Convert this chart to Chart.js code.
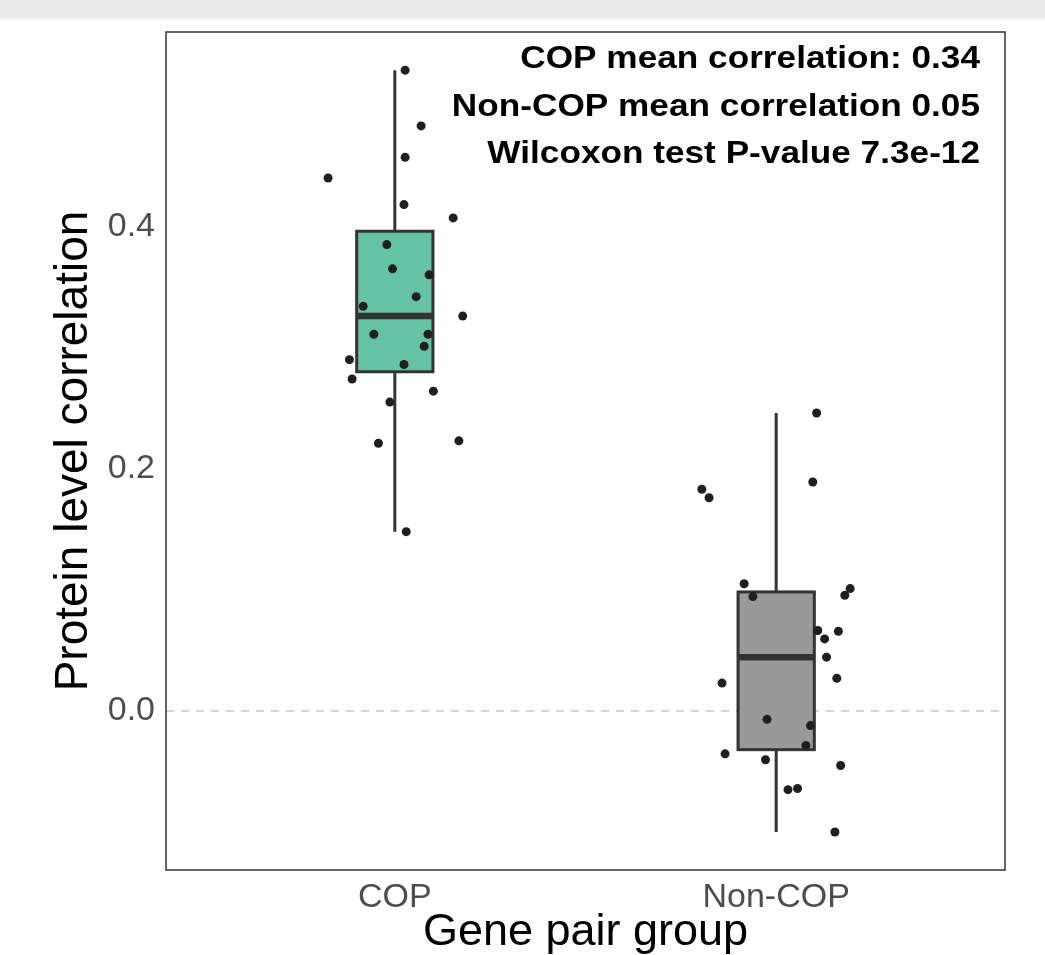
<!DOCTYPE html>
<html>
<head>
<meta charset="utf-8">
<script src="https://cdn.jsdelivr.net/npm/chart.js@4/dist/chart.umd.min.js"></script>
<style>
  html, body { margin: 0; padding: 0; background: #fff; }
  #wrap { position: relative; width: 1045px; height: 955px; }
  #topbar { position: absolute; left: 0; top: 0; width: 1045px; height: 19px; background: #ececec; }
  canvas { position: absolute; left: 0; top: 0; }
</style>
</head>
<body>
<div id="wrap">
  <canvas id="boxChart" width="1045" height="955"></canvas>
  <div id="topbar"></div>
</div>
<script>
// data
const categories = ['COP', 'Non-COP'];

const copValues = [0.529, 0.483, 0.457, 0.440, 0.418, 0.407, 0.385, 0.365, 0.360, 0.342, 0.334, 0.326,
                   0.311, 0.311, 0.301, 0.290, 0.286, 0.274, 0.264, 0.255, 0.221, 0.223, 0.148];
// horizontal jitter of each dot, as offset from the group centre
const copJitter = [0.027, 0.069, 0.027, -0.175, 0.024, 0.153, -0.021, -0.006, 0.090, 0.056, -0.083, 0.178,
                   -0.055, 0.087, 0.077, -0.119, 0.024, -0.112, 0.101, -0.013, -0.043, 0.168, 0.030];

const nonCopValues = [0.246, 0.183, 0.176, 0.189, 0.105, 0.0944, 0.101, 0.0955, 0.0664, 0.0658, 0.0595, 0.0444,
                      0.0269, 0.0230, -0.0069, -0.0121, -0.0285, -0.0354, -0.0403, -0.045, -0.065, -0.064, -0.0999];
const nonCopJitter = [0.106, -0.195, -0.176, 0.096, -0.084, -0.061, 0.194, 0.180, 0.109, 0.163, 0.127, 0.132,
                      0.159, -0.142, -0.024, 0.090, 0.078, -0.134, -0.028, 0.169, 0.031, 0.056, 0.154];

const yTicks = [0, 0.2, 0.4];

const annotationLines = [
    'COP mean correlation: 0.34',
    'Non-COP mean correlation 0.05',
    'Wilcoxon test P-value 7.3e-12'
];

const groups = [
    { values: copValues, fill: '#66c2a5' },
    { values: nonCopValues, fill: '#999999' }
];

// R type-7 quantile
function quantile(sorted, p) {
    const h = (sorted.length - 1) * p;
    const lo = Math.floor(h);
    const hi = Math.ceil(h);
    return sorted[lo] + (h - lo) * (sorted[hi] - sorted[lo]);
}

function boxStats(values) {
    const s = values.slice().sort((a, b) => a - b);
    const q1 = quantile(s, 0.25);
    const med = quantile(s, 0.5);
    const q3 = quantile(s, 0.75);
    const iqr = q3 - q1;
    const inside = s.filter(v => v >= q1 - 1.5 * iqr && v <= q3 + 1.5 * iqr);
    return { q1: q1, med: med, q3: q3, lo: inside[0], hi: inside[inside.length - 1] };
}

const boxHalf = 0.1;

// zero line, whiskers and boxes, under the dots
const boxPlugin = {
    id: 'boxPlugin',
    beforeDatasetsDraw(chart) {
        const { ctx, chartArea, scales: { x, y } } = chart;
        ctx.save();

        const y0 = y.getPixelForValue(0);
        ctx.setLineDash([8, 7]);
        ctx.strokeStyle = '#c8c8c8';
        ctx.lineWidth = 1.5;
        ctx.beginPath();
        ctx.moveTo(chartArea.left, y0);
        ctx.lineTo(chartArea.right, y0);
        ctx.stroke();
        ctx.setLineDash([]);

        groups.forEach((g, i) => {
            const st = boxStats(g.values);
            const c = i + 1;
            const xc = x.getPixelForValue(c);
            const xl = x.getPixelForValue(c - boxHalf);
            const xr = x.getPixelForValue(c + boxHalf);
            const yq1 = y.getPixelForValue(st.q1);
            const yq3 = y.getPixelForValue(st.q3);

            ctx.strokeStyle = '#333333';
            ctx.lineWidth = 3;
            ctx.beginPath();
            ctx.moveTo(xc, y.getPixelForValue(st.hi));
            ctx.lineTo(xc, yq3);
            ctx.moveTo(xc, yq1);
            ctx.lineTo(xc, y.getPixelForValue(st.lo));
            ctx.stroke();

            ctx.fillStyle = g.fill;
            ctx.fillRect(xl, yq3, xr - xl, yq1 - yq3);
            ctx.strokeRect(xl, yq3, xr - xl, yq1 - yq3);

            const ym = y.getPixelForValue(st.med);
            ctx.lineWidth = 6.5;
            ctx.beginPath();
            ctx.moveTo(xl, ym);
            ctx.lineTo(xr, ym);
            ctx.stroke();
        });
        ctx.restore();
    },
    afterDraw(chart) {
        const { ctx, chartArea } = chart;
        ctx.save();
        ctx.strokeStyle = '#333333';
        ctx.lineWidth = 1.5;
        ctx.strokeRect(chartArea.left, chartArea.top, chartArea.right - chartArea.left, chartArea.bottom - chartArea.top);

        // annotation text, top right
        ctx.fillStyle = '#000000';
        ctx.font = 'bold 32px "Liberation Sans", Arial, sans-serif';
        ctx.textAlign = 'right';
        ctx.textBaseline = 'alphabetic';
        annotationLines.forEach((t, i) => {
            ctx.save();
            ctx.translate(chartArea.right - 25, chartArea.top + 36 + i * 47.5);
            ctx.scale(1.1, 1);
            ctx.fillText(t, 0, 0);
            ctx.restore();
        });
        ctx.restore();
    }
};

const ctx = document.getElementById('boxChart').getContext('2d');

new Chart(ctx, {
    type: 'scatter',
    data: {
        datasets: [
            {
                label: categories[0],
                data: copValues.map((v, i) => ({ x: 1 + copJitter[i], y: v })),
                backgroundColor: '#1f1f1f',
                borderWidth: 0,
                pointRadius: 4.5
            },
            {
                label: categories[1],
                data: nonCopValues.map((v, i) => ({ x: 2 + nonCopJitter[i], y: v })),
                backgroundColor: '#1f1f1f',
                borderWidth: 0,
                pointRadius: 4.5
            }
        ]
    },
    options: {
        responsive: false,
        animation: false,
        layout: { padding: { top: 32, right: 40, left: 0, bottom: 0 } },
        plugins: {
            legend: { display: false },
            tooltip: { enabled: false }
        },
        scales: {
            x: {
                type: 'linear',
                min: 0.4,
                max: 2.6,
                afterBuildTicks: function(scale) {
                    scale.ticks = categories.map((c, i) => ({ value: i + 1 }));
                },
                afterFit: function(scale) { scale.height = 85; },
                grid: { display: false, drawTicks: false },
                border: { display: false },
                ticks: {
                    padding: 7,
                    color: '#4d4d4d',
                    font: { family: '"Liberation Sans", Arial, sans-serif', size: 34 },
                    callback: function(value) { return categories[value - 1]; }
                },
                title: {
                    display: true,
                    text: 'Gene pair group',
                    color: '#000000',
                    font: { family: '"Liberation Sans", Arial, sans-serif', size: 45, lineHeight: 1 },
                    padding: { top: 0, bottom: 0 }
                }
            },
            y: {
                type: 'linear',
                min: -0.1313,
                max: 0.5605,
                afterBuildTicks: function(scale) {
                    scale.ticks = yTicks.map(v => ({ value: v }));
                },
                afterFit: function(scale) { scale.width = 166; },
                grid: { display: false, drawTicks: false },
                border: { display: false },
                ticks: {
                    padding: 11,
                    color: '#4d4d4d',
                    font: { family: '"Liberation Sans", Arial, sans-serif', size: 34 },
                    callback: function(value) { return value.toFixed(1); }
                },
                title: {
                    display: true,
                    text: 'Protein level correlation',
                    color: '#000000',
                    font: { family: '"Liberation Sans", Arial, sans-serif', size: 46, lineHeight: 1 },
                    padding: { top: 51, bottom: 0 }
                }
            }
        }
    },
    plugins: [boxPlugin]
});
</script>
</body>
</html>
